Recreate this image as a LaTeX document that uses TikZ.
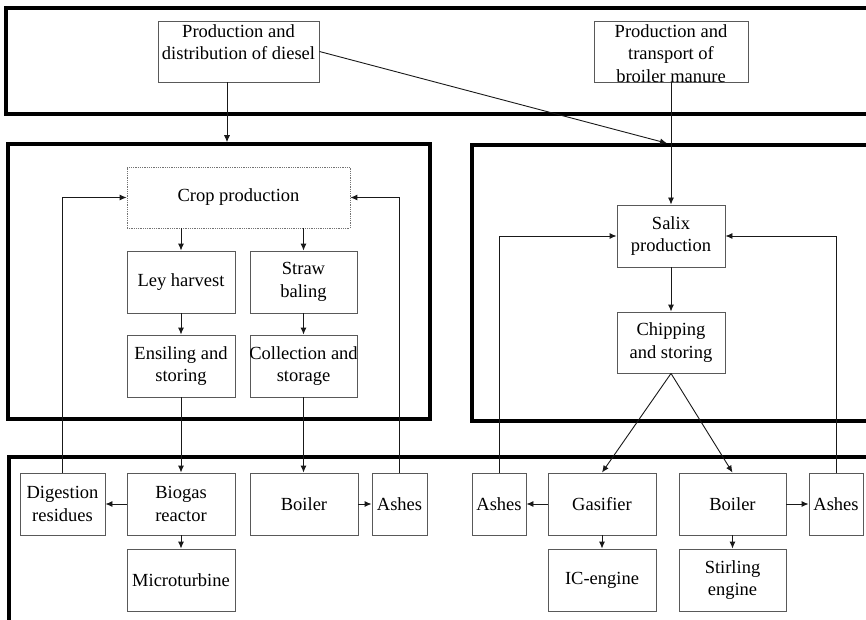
\documentclass[tikz,border=0pt]{standalone}
\usepackage{fontspec}
\setmainfont{Liberation Serif}
\usetikzlibrary{arrows.meta}
\tikzset{
  bigbox/.style={draw=black, line width=3.5pt, inner sep=0pt},
  box/.style={draw=black!65, line width=0.9pt, inner sep=0pt},
  dotbox/.style={draw=black!55, line width=0.8pt, densely dotted, inner sep=0pt},
  txt/.style={inner sep=0pt, align=center, font=\fontsize{18.5}{22.5}\selectfont},
  arr/.style={draw=black!90, line width=0.9pt, -{Latex[length=7pt,width=6pt]}},
  ln/.style={draw=black!80, line width=0.9pt}
}
\newcommand{\mybox}[6]{%
  \node[box, minimum width=#4, minimum height=#5] (#1) at (#2,#3) {};
  \node[txt] (#1-t) at (#1.center) {#6};}
\begin{document}
\begin{tikzpicture}[x=1pt, y=-1pt]
\useasboundingbox (0,0) rectangle (866,620);
\clip (0,0) rectangle (866,620);
\fill[white] (0,0) rectangle (866,620);
% big frames
\node[bigbox, minimum width=874, minimum height=106] (topbox) at (443,61) {};
\node[bigbox, minimum width=422, minimum height=275] (leftbox) at (219,281.5) {};
\node[bigbox, minimum width=428, minimum height=276] (rightbox) at (686,283) {};
\node[bigbox, minimum width=880, minimum height=200] (botbox) at (449,557) {};
% top boxes
\node[box, minimum width=161, minimum height=61] (diesel) at (238.5,51.5) {};
\node[txt] (diesel-t) at (238.5,42) {Production and\\distribution of diesel};
\node[box, minimum width=154, minimum height=61] (broiler) at (671,51.5) {};
\node[txt] (broiler-t) at (671,53.5) {Production and\\transport of\\broiler manure};
% left block
\node[dotbox, minimum width=223, minimum height=61] (crop) at (238.5,197.5) {};
\node[txt] (crop-t) at (crop.center) {Crop production};
\mybox{ley}{181}{282}{108}{62}{Ley harvest}
\mybox{straw}{303.5}{282}{107}{62}{Straw\\baling}
\mybox{ens}{181}{366}{108}{62}{Ensiling and\\storing}
\mybox{coll}{303.5}{366}{107}{62}{Collection and\\storage}
% right block
\mybox{salix}{671}{236}{108}{62}{Salix\\production}
\mybox{chip}{671}{342.5}{108}{61}{Chipping\\and storing}
% bottom
\mybox{dig}{62.5}{504}{85}{62}{Digestion\\residues}
\mybox{bio}{181}{504}{108}{62}{Biogas\\reactor}
\mybox{micro}{181}{580}{108}{62}{Microturbine}
\mybox{boilA}{304}{504}{108}{62}{Boiler}
\mybox{ashA}{399.5}{504}{55}{62}{Ashes}
\mybox{ashB}{499}{504}{54}{62}{Ashes}
\mybox{gas}{602}{504}{108}{62}{Gasifier}
\mybox{ic}{602}{580}{108}{62}{IC-engine}
\mybox{boilB}{732.5}{504}{107}{62}{Boiler}
\mybox{stir}{732.5}{580}{107}{62}{Stirling\\engine}
\mybox{ashC}{836}{504}{54}{62}{Ashes}
% connectors
\draw[arr] ([xshift=-11.5]diesel.south) -- ([xshift=-11.5]diesel.south |- leftbox.north);
\draw[arr] (diesel.east) -- ([xshift=-4]broiler.south |- rightbox.north);
\draw[arr] (broiler.south) -- (salix.north);
\draw[arr] (crop.south -| ley.north) -- (ley.north);
\draw[arr] (crop.south -| straw.north) -- (straw.north);
\draw[arr] (ley) -- (ens);
\draw[arr] (straw) -- (coll);
\draw[arr] (ens) -- (bio);
\draw[arr] (coll.south) -- (coll.south |- boilA.north);
\draw[arr] (bio) -- (dig);
\draw[arr] (bio) -- (micro);
\draw[arr] (boilA) -- (ashA);
\draw[arr] (dig.north) |- (crop.west);
\draw[arr] (ashA.north) |- (crop.east);
\draw[arr] (salix) -- (chip);
\draw[arr] (chip.south) -- (gas.north);
\draw[arr] (chip.south) -- (boilB.north);
\draw[arr] (gas) -- (ashB);
\draw[arr] (gas) -- (ic);
\draw[arr] (boilB) -- (stir);
\draw[arr] (boilB) -- (ashC);
\draw[arr] (ashB.north) |- (salix.west);
\draw[arr] (ashC.north) |- (salix.east);
\end{tikzpicture}
\end{document}
